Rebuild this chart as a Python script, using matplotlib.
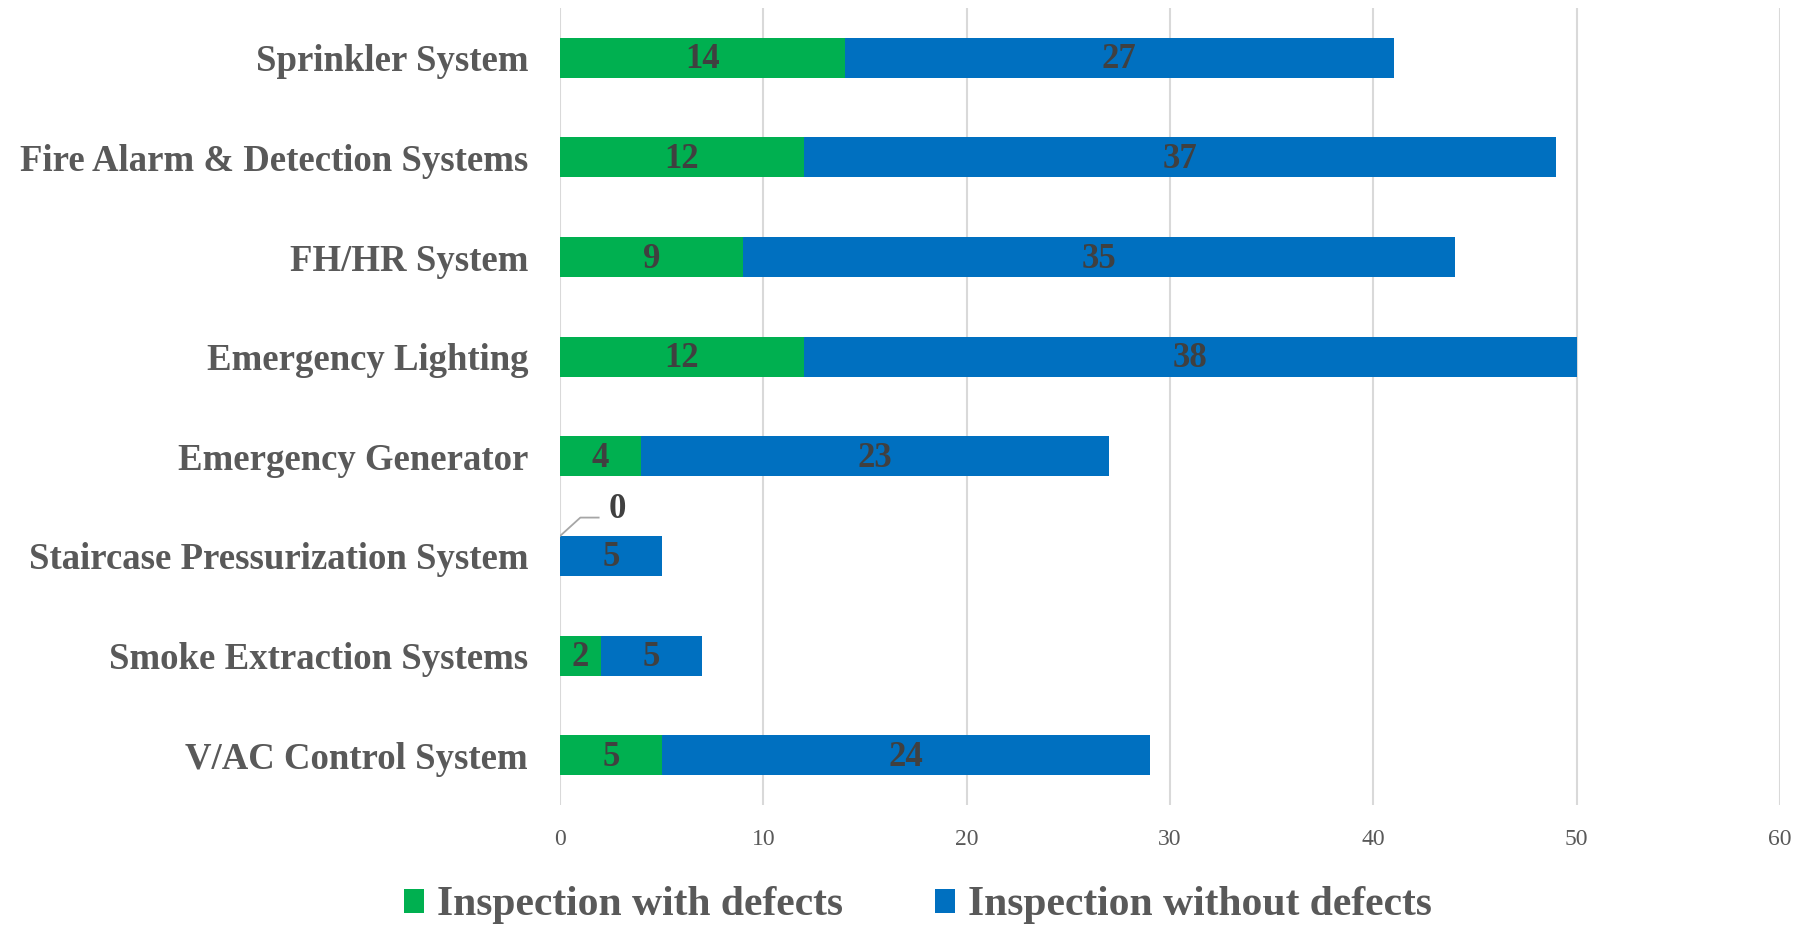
import matplotlib.pyplot as plt
import numpy as np

# data, top to bottom as in the chart
categories = ["Sprinkler System", "Fire Alarm & Detection Systems", "FH/HR System",
              "Emergency Lighting", "Emergency Generator", "Staircase Pressurization System",
              "Smoke Extraction Systems", "V/AC Control System"]
with_defects = [14, 12, 9, 12, 4, 0, 2, 5]
without_defects = [27, 37, 35, 38, 23, 5, 5, 24]
xticks = [0, 10, 20, 30, 40, 50, 60]

green = "#00B050"
blue = "#0070C0"
plt.rcParams['font.family'] = ['Liberation Serif', 'DejaVu Serif']

fig = plt.figure(figsize=(18.03, 9.25), dpi=100)
ax = fig.add_axes([0.3106, 0.1297, 0.6766, 0.8617])

y = np.arange(len(categories))
bh = 0.4
b1 = ax.barh(y, with_defects, height=bh, color=green, label="Inspection with defects")
b2 = ax.barh(y, without_defects, left=with_defects, height=bh, color=blue,
             label="Inspection without defects")

# value labels inside bars
for vals, lefts in [(with_defects, [0]*len(y)), (without_defects, with_defects)]:
    for i, v in enumerate(vals):
        if v == 0:
            # zero value: label above with a leader line
            top = i - bh / 2
            ax.plot([0, 1.0, 1.9], [top, top - 0.185, top - 0.185], color='#A6A6A6', lw=1.3)
            ax.text(2.8, top - 0.27, str(v), ha='center', va='center',
                    fontsize=25, fontweight='bold', color='#404040')
        else:
            ax.text(lefts[i] + v / 2, i + 0.02, str(v), ha='center', va='center',
                    fontsize=25, fontweight='bold', color='#404040')

ax.set_ylim(len(y) - 0.5, -0.5)
ax.set_xlim(0, 60)
ax.set_xticks(xticks)
ax.set_yticks(y)
ax.set_yticklabels(categories, fontsize=26.5, fontweight='bold', color='#595959')
ax.tick_params(axis='x', labelsize=17, labelcolor='#595959', length=0, pad=17)
ax.tick_params(axis='y', length=0, pad=23)
ax.grid(axis='x', color='#D9D9D9', lw=1.5)
ax.set_axisbelow(True)
for s in ax.spines.values():
    s.set_visible(False)

leg = fig.legend(handles=[b1, b2], loc='lower center', bbox_to_anchor=(0.509, -0.04),
                 ncol=2, frameon=False, fontsize=30, handlelength=0.5, handleheight=0.5,
                 handletextpad=0.3, columnspacing=2.2)
for t in leg.get_texts():
    t.set_color('#595959')
    t.set_fontweight('bold')

fig.savefig("out.png", dpi=100)
